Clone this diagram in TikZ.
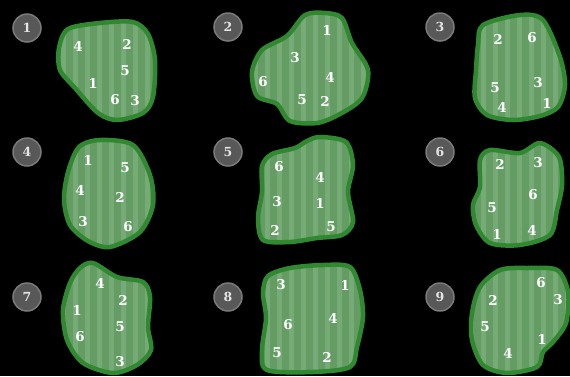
\documentclass[tikz,border=0pt]{standalone}
\usepackage{fontspec}
\setmainfont{DejaVu Serif}
\definecolor{gfillc}{RGB}{100,156,100}
\definecolor{gstripec}{RGB}{118,170,118}
\definecolor{gborderc}{RGB}{48,136,48}
\definecolor{lblfill}{RGB}{88,88,88}
\definecolor{lbledge}{RGB}{122,122,122}
\definecolor{lbltext}{RGB}{228,228,228}
\tikzset{
  num/.style={text=white,font=\fontsize{13.5}{13.5}\selectfont\bfseries,inner sep=0pt},
  lbl/.style={circle,fill=lblfill,draw=lbledge,line width=1.5pt,minimum size=28pt,inner sep=0pt,text=lbltext,font=\fontsize{12.5}{12.5}\selectfont\bfseries},
  gborder/.style={draw=gborderc,line width=4.5pt,line join=round}
}
\newcommand\greenblob[1]{%
  \begin{scope}
    \clip plot[smooth cycle] coordinates {#1};
    \fill[gfillc] (0,0) rectangle (570,376);
    \foreach \xx in {0,12,...,564} {\fill[gstripec] (\xx+1,0) rectangle (\xx+6,376);}
  \end{scope}
  \draw[gborder] plot[smooth cycle] coordinates {#1};
}
\begin{document}
\begin{tikzpicture}[x=1pt,y=-1pt]
\useasboundingbox (0,0) rectangle (570,376);
\fill[black] (0,0) rectangle (570,376);

% blob 1
\greenblob{(68,29) (100,23) (133,22) (148,34) (155,60) (153,97) (143,113) (117,120) (98,113) (75,88) (60,70) (59,48)}
% blob 2
\greenblob{(305,15) (325,13) (342,18) (352,43) (368,70) (362,98) (340,114) (317,123) (290,121) (277,104) (257,96) (252,72) (262,50) (287,36)}
% blob 3
\greenblob{(483,25) (520,15) (543,20) (560,57) (565,85) (558,107) (540,116) (513,120) (487,115) (475,98) (476,70) (478,45)}
% blob 4
\greenblob{(100,140) (133,145) (150,175) (153,205) (140,232) (110,247) (88,241) (70,225) (64,200) (68,172) (79,147)}
% blob 5
\greenblob{(307,141) (320,137) (346,142) (353,165) (348,192) (353,222) (342,235) (317,238) (290,242) (263,240) (258,218) (262,192) (262,166) (272,154) (295,148)}
% blob 6
\greenblob{(490,150) (520,153) (540,143) (559,157) (562,185) (557,210) (550,235) (520,245) (490,243) (476,225) (473,205) (480,187) (480,160)}
% blob 7
\greenblob{(93,263) (117,277) (143,282) (150,297) (148,327) (151,350) (137,365) (113,373) (83,363) (67,340) (63,310) (70,283) (80,268)}
% blob 8
\greenblob{(290,268) (323,265) (350,267) (360,290) (363,317) (357,347) (350,367) (313,372) (267,370) (262,350) (266,318) (263,293) (268,276)}
% blob 9
\greenblob{(500,270) (527,268) (557,270) (568,292) (566,323) (553,342) (543,352) (537,367) (507,373) (483,365) (472,340) (472,313) (480,287)}

% labels
\node[lbl] (l1) at (27,28) {1};
\node[lbl] (l2) at (228,27) {2};
\node[lbl] (l3) at (440,27) {3};
\node[lbl] (l4) at (27,152) {4};
\node[lbl] (l5) at (228,152) {5};
\node[lbl] (l6) at (440,152) {6};
\node[lbl] (l7) at (27,297) {7};
\node[lbl] (l8) at (228,297) {8};
\node[lbl] (l9) at (440,297) {9};

% blob 1 numbers
\node[num] (a4) at (78,46) {4};
\node[num] (a2) at (127,44) {2};
\node[num] (a5) at (125,71) {5};
\node[num] (a1) at (93,83) {1};
\node[num] (a6) at (115,100) {6};
\node[num] (a3) at (135,101) {3};
% blob 2
\node[num] (b1) at (327,30) {1};
\node[num] (b3) at (295,58) {3};
\node[num] (b4) at (330,77) {4};
\node[num] (b6) at (263,82) {6};
\node[num] (b5) at (302,100) {5};
\node[num] (b2) at (325,101) {2};
% blob 3
\node[num] (c2) at (498,39) {2};
\node[num] (c6) at (532,38) {6};
\node[num] (c5) at (495,88) {5};
\node[num] (c3) at (538,83) {3};
\node[num] (c4) at (502,107) {4};
\node[num] (c1) at (547,103) {1};
% blob 4
\node[num] (d1) at (88,160) {1};
\node[num] (d5) at (125,168) {5};
\node[num] (d4) at (80,190) {4};
\node[num] (d2) at (120,197) {2};
\node[num] (d3) at (83,222) {3};
\node[num] (d6) at (128,227) {6};
% blob 5
\node[num] (e6) at (279,167) {6};
\node[num] (e4) at (320,177) {4};
\node[num] (e3) at (277,202) {3};
\node[num] (e1) at (320,203) {1};
\node[num] (e2) at (275,230) {2};
\node[num] (e5) at (331,227) {5};
% blob 6
\node[num] (f2) at (500,164) {2};
\node[num] (f3) at (538,163) {3};
\node[num] (f6) at (533,195) {6};
\node[num] (f5) at (492,208) {5};
\node[num] (f1) at (497,234) {1};
\node[num] (f4) at (532,230) {4};
% blob 7
\node[num] (g4) at (100,283) {4};
\node[num] (g2) at (123,300) {2};
\node[num] (g1) at (77,310) {1};
\node[num] (g5) at (120,327) {5};
\node[num] (g6) at (80,337) {6};
\node[num] (g3) at (120,362) {3};
% blob 8
\node[num] (h3) at (281,285) {3};
\node[num] (h1) at (345,285) {1};
\node[num] (h6) at (288,325) {6};
\node[num] (h4) at (333,318) {4};
\node[num] (h5) at (277,353) {5};
\node[num] (h2) at (327,357) {2};
% blob 9
\node[num] (i6) at (541,283) {6};
\node[num] (i2) at (493,300) {2};
\node[num] (i3) at (558,300) {3};
\node[num] (i5) at (485,327) {5};
\node[num] (i1) at (542,339) {1};
\node[num] (i4) at (508,353) {4};
\end{tikzpicture}
\end{document}
